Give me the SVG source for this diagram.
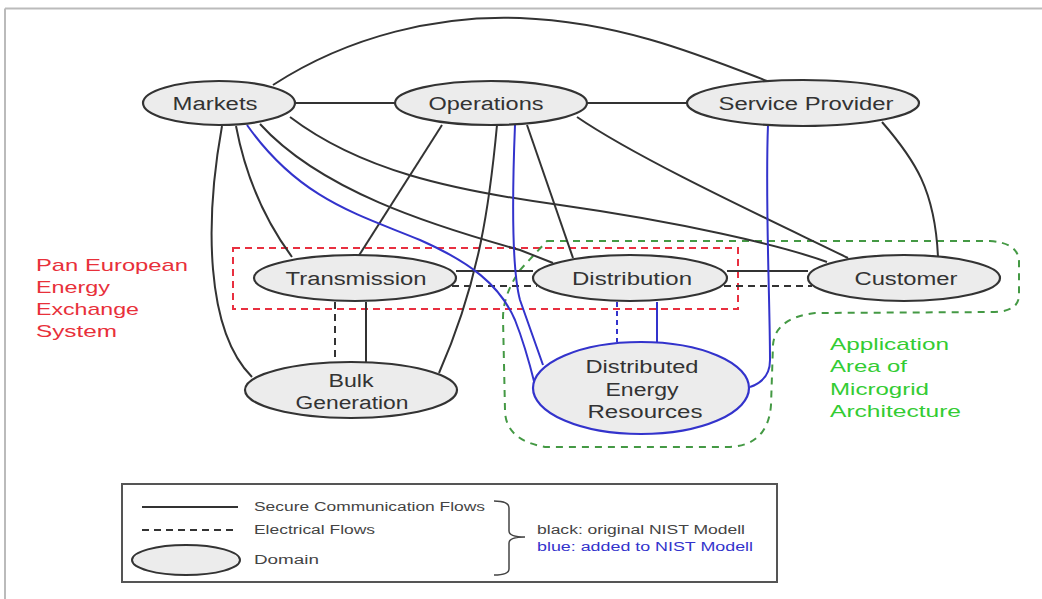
<svg xmlns="http://www.w3.org/2000/svg" width="1042" height="599" viewBox="0 0 1042 599">
<style>
.node{fill:#ececec;stroke:#333;stroke-width:2.2}
.der{fill:#ececec;stroke:#3333cc;stroke-width:2.2}
.lbl{font-family:"Liberation Sans",Arial,sans-serif;font-size:18px;fill:#333;text-anchor:middle}
.e{fill:none;stroke:#333;stroke-width:2}
.ed{fill:none;stroke:#333;stroke-width:2;stroke-dasharray:7,5}
.b{fill:none;stroke:#3333cc;stroke-width:2}
.bd{fill:none;stroke:#3333cc;stroke-width:2;stroke-dasharray:5,4}
.red{font-family:"Liberation Sans",Arial,sans-serif;font-size:17px;fill:#e8303a}
.grn{font-family:"Liberation Sans",Arial,sans-serif;font-size:17px;fill:#33cc33}
.lg{font-family:"Liberation Sans",Arial,sans-serif;font-size:12px;fill:#444}
</style>
<rect width="1042" height="599" fill="#fff"/>
<g id="frame">
<line x1="5" y1="8.5" x2="1042" y2="8.5" stroke="#bbb" stroke-width="2"/>
<line x1="5" y1="8.5" x2="5" y2="599" stroke="#bbb" stroke-width="2"/>
</g>
<g id="regions">
<rect x="233" y="248" width="505" height="61" fill="none" stroke="#e83040" stroke-width="2" stroke-dasharray="7,5"/>
<path d="M547,241 L990,241 Q1019,243 1019,262 L1019,295 Q1019,311 995,312 L815,313 Q775,318 773,345 L771,405 Q768,445 730,447 L545,447 Q505,440 505,410 L503,318 Q503,295 520,270 Z" fill="none" stroke="#449944" stroke-width="2" stroke-dasharray="7,6"/>
<text class="red" x="36" y="271" textLength="152" lengthAdjust="spacingAndGlyphs">Pan European</text>
<text class="red" x="36" y="293" textLength="74" lengthAdjust="spacingAndGlyphs">Energy</text>
<text class="red" x="36" y="315" textLength="103" lengthAdjust="spacingAndGlyphs">Exchange</text>
<text class="red" x="36" y="337" textLength="81" lengthAdjust="spacingAndGlyphs">System</text>
<text class="grn" x="830" y="350" textLength="119" lengthAdjust="spacingAndGlyphs">Application</text>
<text class="grn" x="830" y="372" textLength="77" lengthAdjust="spacingAndGlyphs">Area of</text>
<text class="grn" x="830" y="395" textLength="99" lengthAdjust="spacingAndGlyphs">Microgrid</text>
<text class="grn" x="830" y="417" textLength="131" lengthAdjust="spacingAndGlyphs">Architecture</text>
</g>
<g id="connectors">
<path class="e" d="M273,85 C350,35 440,15 520,18 C620,22 700,55 767,81"/>
<path class="e" d="M295,103 L395,103"/>
<path class="e" d="M587,103 L687,103"/>
<path class="e" d="M236,126 Q250,200 292,257"/>
<path class="e" d="M222,126 C205,220 205,330 252,377"/>
<path class="e" d="M442,125 L358,257"/>
<path class="e" d="M497,125 C490,200 480,280 439,373"/>
<path class="e" d="M527,125 L573,258"/>
<path class="e" d="M577,117 C640,160 770,220 848,258"/>
<path class="e" d="M290,117 C360,170 450,190 560,205 C680,222 780,245 827,262"/>
<path class="e" d="M260,124 C320,190 430,225 520,250 L553,263"/>
<path class="e" d="M882,122 C915,160 935,190 938,257"/>
<path class="e" d="M366,302 L366,363"/>
<path class="ed" d="M335,302 L335,363"/>
<path class="e" d="M456,271 L533,271"/>
<path class="ed" d="M452,286 L537,286"/>
<path class="e" d="M727,271 L808,271"/>
<path class="ed" d="M724,286 L812,286"/>
<path class="bd" d="M617,302 L617,342"/>
<path class="b" d="M657,302 L657,342"/>
<path class="b" d="M247,125 C300,200 360,215 420,240 C470,262 500,285 515,320 C525,345 530,365 535,385"/>
<path class="b" d="M515,125 C512,200 512,270 520,300 L543,365"/>
<path class="b" d="M768,125 C765,200 770,300 770,360 C770,375 762,383 750,387"/>
</g>
<g id="markets"><ellipse class="node" cx="219" cy="103" rx="76" ry="22"/><text class="lbl" x="215" y="110" textLength="85" lengthAdjust="spacingAndGlyphs">Markets</text></g>
<g id="operations"><ellipse class="node" cx="491" cy="103" rx="96" ry="22"/><text class="lbl" x="486" y="110" textLength="115" lengthAdjust="spacingAndGlyphs">Operations</text></g>
<g id="service-provider"><ellipse class="node" cx="803" cy="103" rx="116" ry="23"/><text class="lbl" x="806" y="110" textLength="175" lengthAdjust="spacingAndGlyphs">Service Provider</text></g>
<g id="transmission"><ellipse class="node" cx="355" cy="278" rx="101" ry="23"/><text class="lbl" x="356" y="285" textLength="141" lengthAdjust="spacingAndGlyphs">Transmission</text></g>
<g id="distribution"><ellipse class="node" cx="630" cy="278" rx="97" ry="23"/><text class="lbl" x="632" y="285" textLength="120" lengthAdjust="spacingAndGlyphs">Distribution</text></g>
<g id="customer"><ellipse class="node" cx="904" cy="278" rx="96" ry="23"/><text class="lbl" x="906" y="285" textLength="103" lengthAdjust="spacingAndGlyphs">Customer</text></g>
<g id="bulk-generation"><ellipse class="node" cx="351" cy="390" rx="106" ry="28"/><text class="lbl" x="351" y="387" textLength="45" lengthAdjust="spacingAndGlyphs">Bulk</text><text class="lbl" x="352" y="409" textLength="113" lengthAdjust="spacingAndGlyphs">Generation</text></g>
<g id="der"><ellipse class="der" cx="641" cy="388" rx="108" ry="46"/><text class="lbl" x="642" y="373" textLength="113" lengthAdjust="spacingAndGlyphs">Distributed</text><text class="lbl" x="642" y="396" textLength="73" lengthAdjust="spacingAndGlyphs">Energy</text><text class="lbl" x="645" y="418" textLength="115" lengthAdjust="spacingAndGlyphs">Resources</text></g>
<g id="legend">
<rect x="122" y="484" width="655" height="98" fill="#fff" stroke="#555" stroke-width="2"/>
<line x1="142" y1="507" x2="238" y2="507" stroke="#333" stroke-width="2"/>
<line x1="142" y1="530" x2="238" y2="530" stroke="#333" stroke-width="2" stroke-dasharray="7,5"/>
<ellipse cx="186" cy="560" rx="54" ry="15" fill="#ececec" stroke="#333" stroke-width="2"/>
<text class="lg" x="254" y="511" textLength="231" lengthAdjust="spacingAndGlyphs">Secure Communication Flows</text>
<text class="lg" x="254" y="534" textLength="121" lengthAdjust="spacingAndGlyphs">Electrical Flows</text>
<text class="lg" x="254" y="564" textLength="65" lengthAdjust="spacingAndGlyphs">Domain</text>
<path d="M494,501 Q509,501 509,508 L509,531 Q509,537 525,537 Q509,537 509,543 L509,569 Q509,575 494,575" fill="none" stroke="#444" stroke-width="1.5"/>
<text class="lg" x="537" y="534" textLength="208" lengthAdjust="spacingAndGlyphs">black: original NIST Modell</text>
<text class="lg" x="537" y="551" textLength="216" lengthAdjust="spacingAndGlyphs" style="fill:#3333cc">blue: added to NIST Modell</text>
</g>
</svg>
